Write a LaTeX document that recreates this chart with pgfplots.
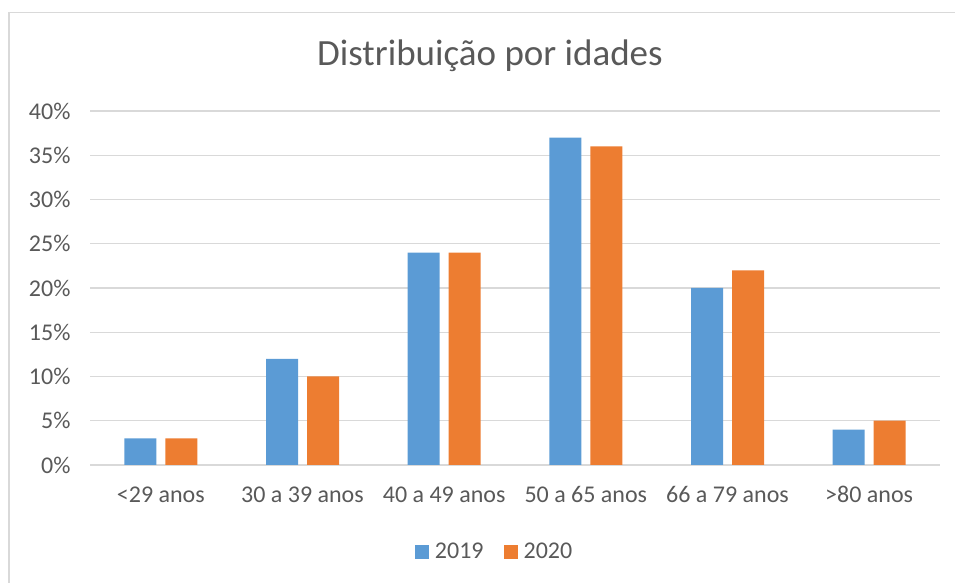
\documentclass[border=0pt]{standalone}
\usepackage{fontspec}
\setmainfont{Carlito}
\usepackage{pgfplots}
\pgfplotsset{compat=1.18}
\definecolor{c19}{HTML}{5B9BD5}
\definecolor{c20}{HTML}{ED7D31}
\definecolor{txt}{HTML}{595959}
\definecolor{grd}{HTML}{D9D9D9}
\begin{document}
\begin{tikzpicture}[x=1pt,y=1pt]
\draw[grd,line width=1.2pt] (9pt,0pt) -- (9pt,570.5pt) -- (955pt,570.5pt);
\node[txt,font=\fontsize{37}{42}\selectfont] at (490pt,527pt) {Distribuição por idades};
\begin{axis}[
  at={(90pt,118pt)}, anchor=south west,
  scale only axis, width=850pt, height=354pt,
  xmin=-0.5, xmax=5.5, ymin=0, ymax=40,
  ybar, bar width=32pt,
  xtick={0,...,5},
  xticklabels={<29 anos,30 a 39 anos,40 a 49 anos,50 a 65 anos,66 a 79 anos,>80 anos},
  ytick={0,5,...,40},
  yticklabel={\pgfmathprintnumber{\tick}\%},
  /pgf/number format/assume math mode=true,
  tick label style={txt,font=\fontsize{24}{28}\selectfont},
  major tick length=0pt,
  yticklabel style={xshift=-16pt},
  xticklabel style={yshift=-18pt},
  ymajorgrids, grid style={grd,line width=1.2pt},
  axis line style={draw=none},
  legend columns=2,
  legend style={at={(0.476,-0.245)},anchor=center,draw=none,fill=none,
    font=\fontsize{24}{28}\selectfont,text=txt,
    /tikz/every odd column/.append style={column sep=4pt},
    /tikz/every even column/.append style={column sep=18pt}},
  legend image code/.code={\fill[#1] (0pt,-7pt) rectangle (14pt,7pt);},
]
\addplot[fill=c19,draw=none,bar shift=-20.5pt] coordinates {(0,3) (1,12) (2,24) (3,37) (4,20) (5,4)};
\addplot[fill=c20,draw=none,bar shift=20.5pt] coordinates {(0,3) (1,10) (2,24) (3,36) (4,22) (5,5)};
\legend{2019,2020}
\end{axis}
\pgfresetboundingbox
\path (0pt,0pt) rectangle (955pt,583pt);
\end{tikzpicture}
\end{document}
